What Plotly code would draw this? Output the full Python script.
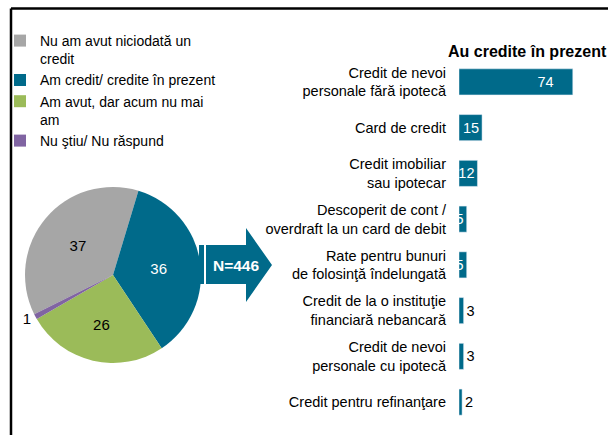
import plotly.graph_objects as go

W, H = 608, 435

# pie data (legend order)
pie_labels = [
    "Nu am avut niciodată un<br>credit",
    "Am credit/ credite în prezent",
    "Am avut, dar acum nu mai<br>am",
    "Nu ştiu/ Nu răspund",
]
pie_values = [37, 36, 26, 1]
pie_colors = ["#A6A6A6", "#006A8A", "#9BBB59", "#8064A2"]
pie_text_colors = ["black", "white", "black", "black"]

# bar data
bar_labels = [
    "Credit de nevoi<br>personale fără ipotecă",
    "Card de credit",
    "Credit imobiliar<br>sau ipotecar",
    "Descoperit de cont /<br>overdraft la un card de debit",
    "Rate pentru bunuri<br>de folosinţă îndelungată",
    "Credit de la o instituţie<br>financiară nebancară",
    "Credit de nevoi<br>personale cu ipotecă",
    "Credit pentru refinanţare",
]
bar_values = [74, 15, 12, 5, 5, 3, 3, 2]
bar_title = "Au credite în prezent"
sample_note = "N=446"

TEAL = "#006A8A"
FONT = "Liberation Sans, Arial, sans-serif"
NB = "\u00a0"


def px(x):
    return x / W


def py(y):
    return 1 - y / H


fig = go.Figure()

fig.add_trace(
    go.Pie(
        labels=pie_labels,
        values=pie_values,
        sort=False,
        direction="clockwise",
        rotation=-116.4,
        marker=dict(colors=pie_colors),
        texttemplate="%{value}",
        textposition=["inside", "inside", "inside", "outside"],
        insidetextorientation="horizontal",
        textfont=dict(size=15, color=pie_text_colors, family=FONT),
        outsidetextfont=dict(size=15, color="black", family=FONT),
        domain=dict(x=[px(25), px(201)], y=[py(363), py(187)]),
        hoverinfo="label+value",
    )
)

# first bar label sits further in from the bar end
bar_templates = ["%{x}" + NB * 4] + ["%{x}"] * (len(bar_values) - 1)

fig.add_trace(
    go.Bar(
        x=bar_values,
        y=bar_labels,
        orientation="h",
        marker=dict(color=TEAL),
        width=0.57,
        texttemplate=bar_templates,
        textposition=["inside"] * 5 + ["outside"] * 3,
        textangle=0,
        insidetextanchor="end",
        constraintext="none",
        insidetextfont=dict(color="white", size=14.5, family=FONT),
        outsidetextfont=dict(color="black", size=14.5, family=FONT),
        cliponaxis=False,
        showlegend=False,
        hoverinfo="x+y",
    )
)

# arrow with sample size
arrow = (
    f"M{px(206)},{py(245)} L{px(246)},{py(245)} L{px(246)},{py(228)} "
    f"L{px(272)},{py(265)} L{px(246)},{py(302)} L{px(246)},{py(284)} "
    f"L{px(206)},{py(284)} Z"
)
shapes = [
    dict(type="path", xref="paper", yref="paper", path=arrow,
         fillcolor=TEAL, line=dict(width=0)),
    dict(type="rect", xref="paper", yref="paper",
         x0=px(199), x1=px(204), y0=py(284), y1=py(245),
         fillcolor=TEAL, line=dict(width=0)),
    dict(type="line", xref="paper", yref="paper",
         x0=px(11), x1=px(W + 5), y0=py(8.5), y1=py(8.5),
         line=dict(color="black", width=2.5)),
    dict(type="line", xref="paper", yref="paper",
         x0=px(11), x1=px(11), y0=py(8.5), y1=py(H + 5),
         line=dict(color="black", width=2.5)),
]

fig.update_layout(
    width=W,
    height=H,
    margin=dict(l=0, r=0, t=0, b=0),
    paper_bgcolor="white",
    plot_bgcolor="white",
    font=dict(family=FONT, color="black", size=14.5),
    xaxis=dict(domain=[px(459), px(602)], range=[0, 93], visible=False,
               fixedrange=True),
    yaxis=dict(domain=[py(425), py(59)], autorange="reversed",
               showgrid=False, zeroline=False, showline=False,
               ticks="", ticklabelstandoff=12,
               tickfont=dict(size=14.5, color="black")),
    legend=dict(x=0, y=py(25), xanchor="left", yanchor="top",
                font=dict(size=14, color="black"), valign="top",
                itemwidth=30, bgcolor="rgba(0,0,0,0)"),
    shapes=shapes,
    annotations=[
        dict(text=f"<b>{bar_title}</b>", xref="paper", yref="paper",
             x=px(527), y=py(52), xanchor="center", yanchor="middle",
             showarrow=False, font=dict(size=16, color="black")),
        dict(text=f"<b>{sample_note}</b>", xref="paper", yref="paper",
             x=px(236), y=py(265), xanchor="center", yanchor="middle",
             showarrow=False, font=dict(size=15.5, color="white")),
    ],
)

fig.write_html(
    "out.html",
    config={"displayModeBar": False},
    post_script="document.body.style.margin='0';",
)
